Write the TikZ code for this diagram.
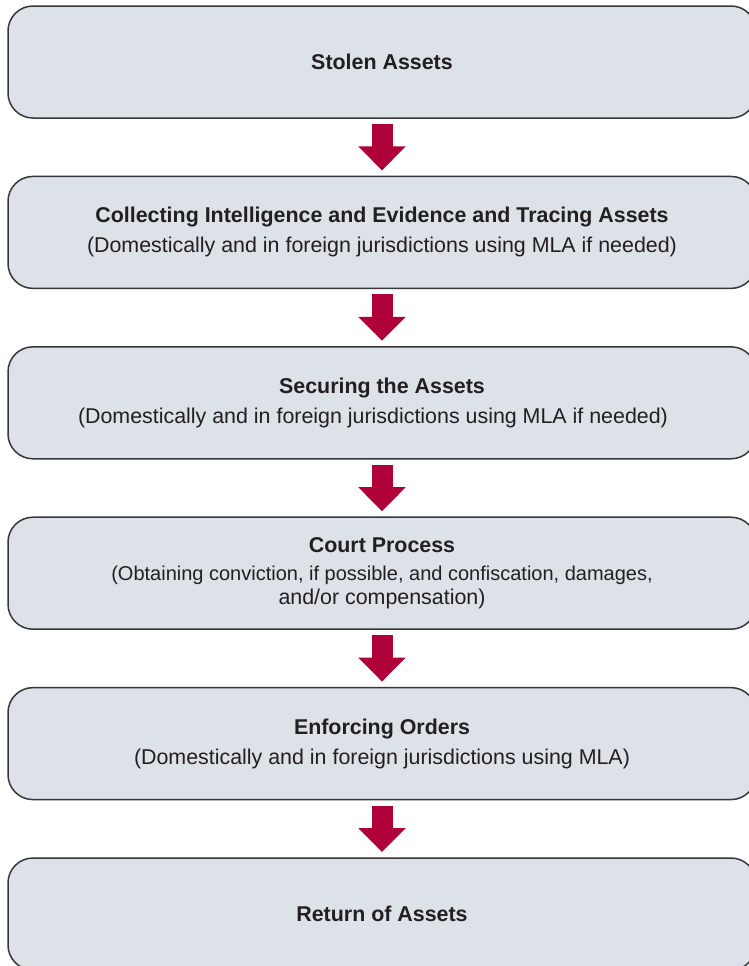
\documentclass[tikz,border=0pt]{standalone}
\usepackage{fontspec}
\setmainfont{Liberation Sans}
\usetikzlibrary{arrows.meta,positioning}
\definecolor{boxfill}{RGB}{221,225,232}
\definecolor{boxline}{RGB}{55,55,58}
\definecolor{arrowred}{RGB}{176,0,58}
\definecolor{textgray}{RGB}{35,31,32}
\tikzset{%
    stage/.style    = {draw=boxline, line width=0.75pt, fill=boxfill, rectangle,
        rounded corners=12.5pt, minimum width=374pt, minimum height=56pt,
        outer sep=0pt, align=center, text=textgray,
        font=\fontsize{10.7}{12}\selectfont},
    flow/.style     = {draw=arrowred, line width=10.5pt,
        -{Triangle[width=23pt,length=12pt]}, arrowred},
}

\begin{document}
\begin{tikzpicture}[node distance=29.2pt]
    \useasboundingbox (0,0) rectangle (374.5pt,-483pt);
    \clip (0,0) rectangle (374.5pt,-483pt);
    % We start by placing the stages
    \node [stage] (stolen) at (191pt,-31pt) {\textbf{Stolen Assets}};
    \node [stage, below = of stolen] (tracing)
        {\textbf{Collecting Intelligence and Evidence and Tracing Assets}\\[3pt]
         (Domestically and in foreign jurisdictions using MLA if needed)};
    \node [stage, below = of tracing] (securing)
        {\textbf{Securing the Assets}\\[3pt]
         \hspace*{-9pt}(Domestically and in foreign jurisdictions using MLA if needed)};
    \node [stage, below = of securing] (court)
        {\textbf{Court Process}\\[2pt]
         \fontsize{10}{12}\selectfont
         (Obtaining conviction, if possible, and confiscation, damages,\\
         and/or compensation)};
    \node [stage, below = of court] (enforcing)
        {\textbf{Enforcing Orders}\\[3pt]
         (Domestically and in foreign jurisdictions using MLA)};
    \node [stage, below = of enforcing] (returned) {\textbf{Return of Assets}};

    % Once the stages are placed, connecting them is easy.
    \draw [flow] ([yshift=-3pt]stolen.south) -- ([yshift=3pt]tracing.north);
    \draw [flow] ([yshift=-3pt]tracing.south) -- ([yshift=3pt]securing.north);
    \draw [flow] ([yshift=-3pt]securing.south) -- ([yshift=3pt]court.north);
    \draw [flow] ([yshift=-3pt]court.south) -- ([yshift=3pt]enforcing.north);
    \draw [flow] ([yshift=-3pt]enforcing.south) -- ([yshift=3pt]returned.north);

\end{tikzpicture}
\end{document}
